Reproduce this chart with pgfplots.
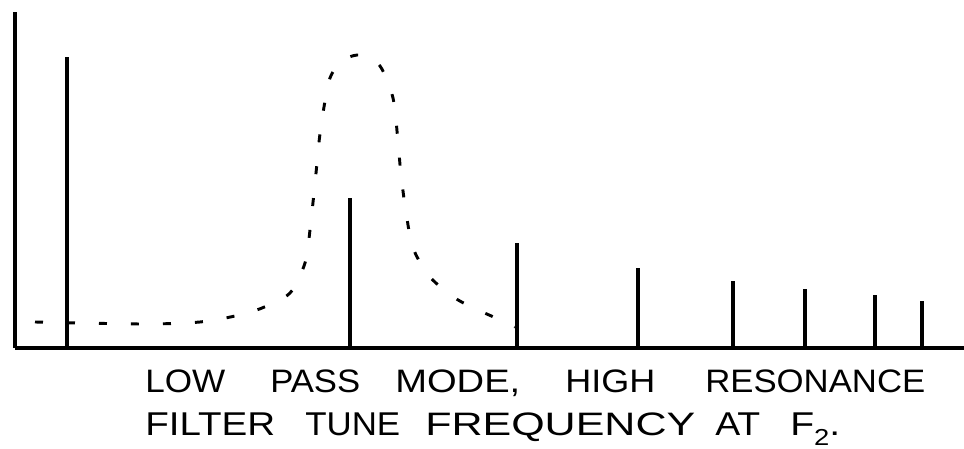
\documentclass[border=0pt]{standalone}
\usepackage{pgfplots}
\pgfplotsset{compat=1.18}
\usepackage{fontspec}
\setmainfont{Liberation Sans}
\newcommand{\wrd}[4]{\node[anchor=base west, inner sep=0pt] at (#1pt,#2pt) {\resizebox{#3pt}{17pt}{#4}};}
\begin{document}
\begin{tikzpicture}
\path[use as bounding box] (0,0) rectangle (723pt,336.75pt);
\begin{axis}[
  at={(11.25pt,75.75pt)}, anchor=origin,
  scale only axis, width=711.75pt, height=252pt,
  xmin=15, xmax=964, ymin=0, ymax=336,
  axis lines=left, axis line style={line width=2.6pt,-},
  ticks=none, clip=false,
]
\addplot[ycomb, line width=2.8pt, black] coordinates {
 (67,291) (350,150) (517,105) (638,80) (733,67) (805,59) (875,53) (922,47)
};
\addplot[smooth, line width=2.2pt, black, dash pattern=on 6pt off 18pt] coordinates {
 (35,26) (80,25) (150,24) (200,26) (235,32) (262,40) (290,55) (305,85)
 (310,118) (316,175) (319,206) (323,235) (330,270) (343,288) (362,293)
 (380,282) (393,250) (398,206) (401,173) (406,136) (413,100) (430,71)
 (455,50) (478,38) (505,26) (515,21)
};
\end{axis}
% line 1 baseline at px 393 -> 42pt
\wrd{108.75}{42}{60}{LOW}
\wrd{202.5}{42}{67.5}{PASS}
\wrd{296.25}{42}{93.75}{MODE,}
\wrd{423.75}{42}{67.5}{HIGH}
\wrd{528.75}{42}{165}{RESONANCE}
% line 2 baseline at px 436 -> 9.75pt
\wrd{108.75}{9.75}{97.5}{FILTER}
\wrd{228.75}{9.75}{71.25}{TUNE}
\wrd{318.75}{9.75}{202.5}{FREQUENCY}
\wrd{536.25}{9.75}{33.75}{AT}
\node[anchor=base west, inner sep=0pt] at (592.5pt,9.75pt) {\resizebox{37.5pt}{17pt}{F\raisebox{-3pt}{\scriptsize 2}.}};
\end{tikzpicture}
\end{document}
